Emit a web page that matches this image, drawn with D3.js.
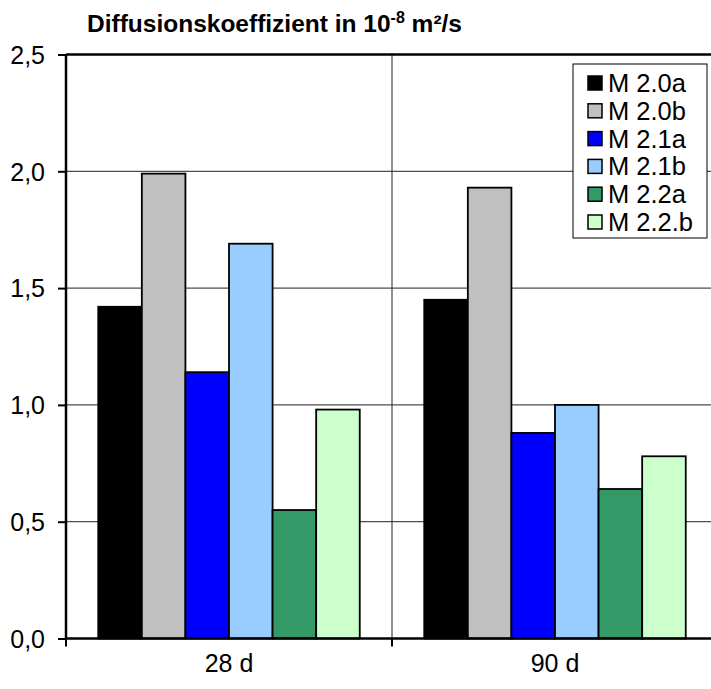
<!DOCTYPE html>
<html><head><meta charset="utf-8">
<script src="https://cdn.jsdelivr.net/npm/d3@7"></script>
<style>body{margin:0;background:#fff}svg{display:block}</style>
</head><body>
<script>
const categories = ["28 d", "90 d"];
const seriesNames = ["M 2.0a", "M 2.0b", "M 2.1a", "M 2.1b", "M 2.2a", "M 2.2.b"];
const seriesColors = ["#000000", "#C0C0C0", "#0000FF", "#99CCFF", "#339966", "#CCFFCC"];
const values28 = [1.42, 1.99, 1.14, 1.69, 0.55, 0.98];
const values90 = [1.45, 1.93, 0.88, 1.00, 0.64, 0.78];
const yTicks = [0, 0.5, 1.0, 1.5, 2.0, 2.5];

const W = 711, H = 689;
const FONT = "Liberation Sans, Arial, sans-serif";
const margin = {left: 66, right: -7, top: 54.5, bottom: 50.5};
const svg = d3.select("body").append("svg").attr("width", W).attr("height", H);

const x0 = d3.scaleBand().domain(categories).range([margin.left, W - margin.right]).paddingInner(0).paddingOuter(0);
const x1 = d3.scaleBand().domain(seriesNames).range([0, x0.bandwidth()]).paddingOuter(0.74).paddingInner(0);
const y = d3.scaleLinear().domain([0, 2.5]).range([H - margin.bottom, margin.top]);

const data = [values28, values90];
const fmt = v => d3.format(".1f")(v).replace(".", ",");

// horizontal gridlines
svg.append("g").selectAll("line").data(yTicks.slice(1, -1)).join("line")
  .attr("x1", margin.left).attr("x2", W).attr("y1", d => y(d)).attr("y2", d => y(d))
  .attr("stroke", "#222").attr("stroke-width", 1);
// vertical gridline at category boundary
svg.append("line").attr("x1", x0("90 d")).attr("x2", x0("90 d"))
  .attr("y1", y(2.5)).attr("y2", y(0)).attr("stroke", "#222").attr("stroke-width", 1);
// top border
svg.append("line").attr("x1", margin.left).attr("x2", W).attr("y1", y(2.5)).attr("y2", y(2.5))
  .attr("stroke", "#000").attr("stroke-width", 2.5);

// bars
categories.forEach((c, ci) => {
  svg.append("g").selectAll("rect").data(data[ci]).join("rect")
    .attr("x", (d, i) => x0(c) + x1(seriesNames[i]))
    .attr("y", d => y(d))
    .attr("width", x1.bandwidth())
    .attr("height", d => y(0) - y(d))
    .attr("fill", (d, i) => seriesColors[i])
    .attr("stroke", "#000").attr("stroke-width", 1.8);
});

// y axis
const yAxis = d3.axisLeft(y).tickValues(yTicks).tickFormat(fmt).tickSize(8).tickPadding(13);
const gy = svg.append("g").attr("transform", `translate(${margin.left},0)`).call(yAxis);
gy.select(".domain").attr("stroke-width", 2.5).attr("d", `M0,${y(2.5)}V${y(0)}`);
gy.selectAll(".tick line").attr("stroke-width", 2);
gy.selectAll("text").attr("font-family", FONT).attr("font-size", 25).attr("fill", "#000").attr("dy", "0.35em");

// x axis
const gx = svg.append("g").attr("transform", `translate(0,${y(0)})`);
gx.append("line").attr("x1", margin.left).attr("x2", W).attr("y1", 0).attr("y2", 0)
  .attr("stroke", "#000").attr("stroke-width", 2.5);
const boundaries = [x0("28 d"), x0("90 d"), x0("90 d") + x0.bandwidth()];
gx.selectAll("line.t").data(boundaries).join("line").attr("class", "t")
  .attr("x1", d => d).attr("x2", d => d).attr("y1", 0).attr("y2", 8)
  .attr("stroke", "#000").attr("stroke-width", 2);
gx.selectAll("text").data(categories).join("text")
  .attr("x", d => x0(d) + x0.bandwidth() / 2).attr("y", 33.5)
  .attr("text-anchor", "middle").attr("font-family", FONT)
  .attr("font-size", 25).text(d => d);

// title
const title = svg.append("text").attr("x", 87).attr("y", 32)
  .attr("font-family", FONT).attr("font-size", 24.5).attr("font-weight", "bold");
title.append("tspan").text("Diffusionskoeffizient in 10");
title.append("tspan").attr("dy", -9).attr("font-size", 16).text("-8");
title.append("tspan").attr("dy", 9).text(" m²/s");

// legend
const lg = svg.append("g").attr("transform", "translate(573,64)");
lg.append("rect").attr("width", 134).attr("height", 174).attr("fill", "#fff").attr("stroke", "#000").attr("stroke-width", 1);
const items = lg.selectAll("g").data(seriesNames).join("g")
  .attr("transform", (d, i) => `translate(0,${19 + i * 27.8})`);
items.append("rect").attr("x", 15).attr("y", -7).attr("width", 14).attr("height", 14)
  .attr("fill", (d, i) => seriesColors[i]).attr("stroke", "#000").attr("stroke-width", 1.5);
items.append("text").attr("x", 35).attr("y", 9)
  .attr("font-family", FONT).attr("font-size", 25.5).text(d => d);
</script>
</body></html>
